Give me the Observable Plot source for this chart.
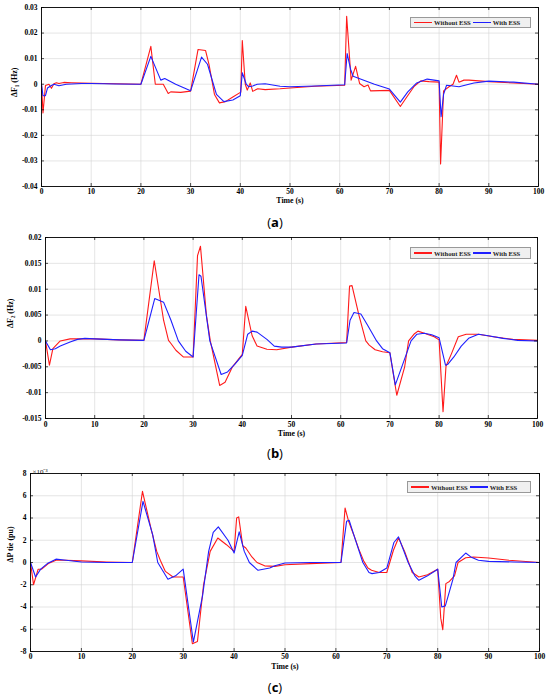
<!DOCTYPE html>
<html><head><meta charset="utf-8">
<script src="https://cdn.jsdelivr.net/npm/d3@7"></script>
<script src="https://cdn.jsdelivr.net/npm/@observablehq/plot@0.6"></script>
<style>
body{margin:0;background:#fff;}
#wrap{position:relative;width:550px;height:697px;overflow:hidden;}
.panel{position:absolute;left:0;}
.lbl{position:absolute;left:0;width:550px;height:18px;line-height:18px;text-align:center;font-family:"Open Sans",sans-serif;font-size:13px;color:#000;}
.lbl b{font-weight:700;}
.legend{position:absolute;background:#f0f0f0;border:0.8px solid #999;box-sizing:border-box;display:flex;align-items:center;font-family:"Liberation Serif",serif;font-weight:bold;font-size:6.6px;color:#222;white-space:nowrap;padding:0 2px;}
.legend .sw{display:inline-block;width:18px;height:1.4px;margin:0 2px 0 1px;}
</style>
</head><body>
<div id="wrap"></div>
<script>
// ---------- data ----------
const xTicks = [0,10,20,30,40,50,60,70,80,90,100];
const seriesNames = ["Without ESS","With ESS"];
const seriesColors = ["#ff1a1a","#1f1fff"];

// Panel (a): ΔF1 (Hz)
const aYTicks = [-0.04,-0.03,-0.02,-0.01,0,0.01,0.02,0.03];
const aWithout = [[0,0],[0.3,-0.0112],[0.8,-0.0005],[1.5,0],[2,-0.0016],[2.5,0.0002],[3,0.0006],[3.5,0.0003],[4.5,0.0007],[6,0.0006],[10,0.0004],[15,0.0002],[20,0],[22,0.0148],[22.9,0],[24.5,0],[25.5,-0.0036],[26,-0.003],[28,-0.0032],[30,-0.0027],[31.5,0.0136],[33,0.0132],[33.7,0.0078],[34.8,-0.004],[35.8,-0.0073],[37,-0.0068],[38.5,-0.005],[40.1,-0.0031],[40.4,0.0171],[41,0],[41.4,-0.0023],[42,0.0005],[42.5,-0.0028],[43.5,-0.0018],[45,-0.0021],[48,-0.0018],[50,-0.0015],[55,-0.0008],[61,-0.0004],[61.4,0.0266],[62.3,0.0016],[63.2,0.007],[64,0.0003],[64.9,-0.001],[65.7,-0.0003],[66.2,-0.0026],[70,-0.0024],[72.2,-0.0087],[73.5,-0.005],[75,-0.0008],[76.3,0.0013],[78,0.001],[80,0.0008],[80.3,-0.0312],[80.9,-0.0026],[82,-0.001],[82.8,0],[83.5,0.0035],[84,0.0008],[85,0.0016],[86,0.0016],[90,0.001],[95,0.0005],[100,0]];
const aWith = [[0,0],[0.3,-0.0045],[0.8,-0.0045],[1.2,-0.0015],[2,-0.0005],[2.5,0],[3.5,-0.0006],[5,0],[8,0.0003],[10,0.0003],[15,0.0001],[20,0],[22,0.0109],[24,0.0016],[24.8,0.0022],[27,0],[30,-0.0026],[32.2,0.0106],[33.4,0.0078],[35.2,-0.004],[36.7,-0.0068],[38.5,-0.0062],[40,-0.0045],[40.4,0.0045],[41.2,0],[41.7,-0.001],[42.5,-0.0007],[43.4,0],[45,0.0002],[48,-0.0008],[50,-0.001],[55,-0.0007],[61,-0.0002],[61.5,0.012],[62.2,0.0058],[62.7,0.0031],[67,0],[70,-0.0019],[72.2,-0.007],[73.7,-0.003],[75.5,0.0005],[77.6,0.002],[80,0.0013],[80.4,-0.0127],[80.9,-0.004],[81.5,-0.0004],[82,-0.0005],[84,-0.001],[87,0.0005],[90,0.0012],[95,0.0008],[100,0]];

// Panel (b): ΔF2 (Hz)
const bYTicks = [-0.015,-0.01,-0.005,0,0.005,0.01,0.015,0.02];
const bWithout = [[0,0],[0.8,-0.0047],[1.5,-0.0015],[3,0],[5,0.0004],[7,0.0004],[10,0.0004],[15,0.0002],[20,0.0001],[22.1,0.0155],[24,0.004],[25,0.0001],[25.5,-0.0005],[26.5,-0.0018],[28,-0.0031],[30,-0.0031],[30.9,0.0165],[31.5,0.0183],[32.7,0.005],[33.5,0],[35.4,-0.0086],[36.5,-0.008],[38,-0.005],[40,-0.0026],[40.7,0.0067],[42,0.001],[43,-0.001],[45,-0.0016],[47,-0.0017],[50,-0.0012],[55,-0.0006],[61.2,-0.0003],[61.8,0.0106],[62.3,0.0107],[63.7,0.005],[65.1,0],[65.8,-0.0008],[67,-0.0017],[68.5,-0.0021],[70,-0.0023],[71.4,-0.0105],[73,-0.005],[73.8,0],[75,0.0014],[75.7,0.0019],[77,0.0015],[79,0.0008],[80,0.0002],[80.8,-0.0137],[81.4,-0.0049],[82.5,-0.0025],[83.9,0.0008],[85.5,0.0013],[88,0.0013],[91,0.0008],[95,0.0003],[100,0.0001]];
const bWith = [[0,0],[1,-0.0017],[2,-0.0015],[3,-0.001],[5,-0.0002],[6.5,0.0003],[8,0.0005],[10,0.0004],[15,0.0002],[20,0.0001],[22.2,0.0082],[24,0.0075],[25.5,0.004],[27,0],[28.5,-0.002],[30,-0.0031],[31.2,0.0128],[31.6,0.0125],[33.4,0],[35.7,-0.0065],[37,-0.006],[38.5,-0.0045],[40,-0.0028],[41.1,0.0013],[42,0.0019],[43,0.0017],[45,0.0003],[46.5,-0.001],[48,-0.0012],[50,-0.0012],[55,-0.0006],[61.2,-0.0004],[61.9,0.004],[62.7,0.0055],[64.1,0.0052],[65.5,0.003],[67.3,0],[68.5,-0.0015],[70,-0.0023],[71.1,-0.0085],[72.8,-0.004],[74.3,0],[75.5,0.0013],[77,0.0015],[78.5,0.0012],[80,0.0006],[81.3,-0.0047],[81.8,-0.0045],[83,-0.0031],[84.5,-0.001],[86,0.0005],[88,0.0013],[90,0.001],[93,0.0005],[96,0.0001],[100,0]];

// Panel (c): ΔP tie (pu), values in units of 10^-3
const cYTicks = [-8,-6,-4,-2,0,2,4,6,8];
const cWithout = [[0,0],[0.6,-2.0],[1.5,-0.6],[2.2,-0.6],[3.5,-0.1],[5,0.2],[7,0.2],[10,0.15],[15,0.05],[20,0],[22,6.4],[23.7,3],[24.8,1],[25.5,0.2],[26.5,-0.8],[28,-1.3],[30,-1.3],[31.8,-7.3],[32.8,-7.1],[34,-2],[35.3,1],[36.8,2.2],[38.5,1.6],[40,1.0],[40.5,4.0],[40.9,4.1],[41.7,1.5],[42.3,1.3],[43.5,0.5],[44.5,0],[46,-0.3],[48,-0.35],[50,-0.2],[55,-0.1],[61,0],[61.8,4.9],[62.5,3.7],[63.5,2.5],[64.5,1.2],[65.5,0.1],[66.3,-0.5],[67,-0.7],[68.5,-0.9],[70,-0.9],[71.3,1.1],[72.3,2.2],[73.5,1.0],[75,-0.9],[76.3,-1.3],[78,-1.1],[80,-0.6],[80.6,-5],[81,-6.05],[81.6,-1.9],[82.3,-1.7],[83.3,-1.2],[84,0],[85.5,0.42],[87,0.5],[90,0.4],[94,0.2],[100,0]];
const cWith = [[0,0],[1,-1.3],[2,-0.6],[3.3,-0.1],[5,0.3],[7,0.2],[10,0.05],[15,0],[20,0],[22.1,5.5],[24,2.5],[25,0],[27,-1.5],[28.5,-1.2],[30,-0.6],[32,-7.15],[33.8,-3],[35,1],[35.9,2.7],[36.9,3.2],[38.8,2.0],[40,0.85],[41,2.75],[42,1.0],[43,0],[44.7,-0.7],[47,-0.5],[48,-0.3],[50,-0.05],[55,0],[61,0],[62.1,3.7],[62.6,3.8],[63.5,2.5],[65.3,0],[66.5,-0.9],[67.1,-1.0],[68.5,-0.9],[70,-0.5],[71.4,1.8],[72.3,2.3],[74.2,0],[75.5,-1.2],[76.3,-1.6],[78,-1.2],[80,-0.6],[80.8,-4.0],[81.5,-3.9],[83,-1.5],[83.6,0],[85.5,0.85],[86.5,0.5],[88,0.2],[90,0.1],[95,0.05],[100,0]];

// ---------- drawing ----------
const wrap = document.getElementById("wrap");
const W = 550;

function makePanel(cfg){
  const innerH = cfg.height - cfg.mt - cfg.mb;
  const innerW = W - cfg.ml - cfg.mr;
  const font = {fontFamily:"Liberation Serif, serif", fontWeight:"bold"};
  const marks = [
    Plot.gridX(xTicks, {stroke:"#d4d4d4", strokeOpacity:1, strokeWidth:0.6}),
    Plot.gridY(cfg.yTicks, {stroke:"#d4d4d4", strokeOpacity:1, strokeWidth:0.6}),
    Plot.line(cfg.red, {x:d=>d[0], y:d=>d[1], stroke:seriesColors[0], strokeWidth:1.1}),
    Plot.line(cfg.blue, {x:d=>d[0], y:d=>d[1], stroke:seriesColors[1], strokeWidth:1.1}),
    Plot.tickX(xTicks, {x:d=>d, insetTop:innerH-3, stroke:"#000", strokeWidth:0.7}),
    Plot.tickX(xTicks, {x:d=>d, insetBottom:innerH-3, stroke:"#000", strokeWidth:0.7}),
    Plot.tickY(cfg.yTicks, {y:d=>d, insetRight:innerW-3, stroke:"#000", strokeWidth:0.7}),
    Plot.tickY(cfg.yTicks, {y:d=>d, insetLeft:innerW-3, stroke:"#000", strokeWidth:0.7}),
    Plot.frame({stroke:"#000", strokeWidth:0.9}),
    Plot.axisX(xTicks, {tickSize:0, tickPadding:cfg.xPad, tickFormat:d=>String(d), fontSize:7.5, ...font, label:null}),
    Plot.axisY(cfg.yTicks, {tickSize:0, tickPadding:4, tickFormat:d=>String(d), fontSize:7.5, ...font, label:null}),
    Plot.text(["Time (s)"], {frameAnchor:"bottom", dy:cfg.timeDy, fontSize:7.8, ...font, fill:"#000"}),
    Plot.text([cfg.ylabel], {frameAnchor:"left", dx:cfg.ylDx, rotate:-90, fontSize:8, ...font, fill:"#000"})
  ];
  if (cfg.extra) marks.push(cfg.extra);
  const svg = Plot.plot({
    width: W, height: cfg.height,
    marginTop: cfg.mt, marginBottom: cfg.mb, marginLeft: cfg.ml, marginRight: cfg.mr,
    x: {domain:[0,100]},
    y: {domain: cfg.yDomain},
    style: {background:"white", color:"#000", overflow:"visible"},
    marks
  });
  const div = document.createElement("div");
  div.className = "panel";
  div.style.top = cfg.top + "px";
  div.appendChild(svg);
  wrap.appendChild(div);

  const lg = document.createElement("div");
  lg.className = "legend";
  lg.style.left = cfg.lg[0] + "px"; lg.style.top = cfg.lg[1] + "px";
  lg.style.width = cfg.lg[2] + "px"; lg.style.height = cfg.lg[3] + "px";
  seriesNames.forEach((n,i)=>{
    const sw = document.createElement("span"); sw.className = "sw"; sw.style.background = seriesColors[i];
    const tx = document.createElement("span"); tx.textContent = n; tx.style.marginRight = i===0 ? "1px" : "0";
    lg.appendChild(sw); lg.appendChild(tx);
  });
  wrap.appendChild(lg);

  const lb = document.createElement("div");
  lb.className = "lbl";
  lb.style.top = cfg.lblTop + "px";
  lb.innerHTML = "(<b>" + cfg.tag + "</b>)";
  wrap.appendChild(lb);
}

makePanel({top:0, height:212, mt:7, mb:26, ml:41, mr:12, yDomain:[-0.04,0.03], yTicks:aYTicks,
  red:aWithout, blue:aWith, ylabel:"ΔF₁ (Hz)", ylDx:-27, xPad:2, timeDy:16.5,
  lg:[410,17,121,11], lblTop:213, tag:"a"});
makePanel({top:230, height:212, mt:7, mb:24, ml:45, mr:13, yDomain:[-0.015,0.02], yTicks:bYTicks,
  red:bWithout, blue:bWith, ylabel:"ΔF₂ (Hz)", ylDx:-35, xPad:3, timeDy:17.5,
  lg:[410,247,121,12], lblTop:444, tag:"b"});
makePanel({top:462, height:215, mt:11, mb:26, ml:30, mr:11, yDomain:[-8,8], yTicks:cYTicks,
  red:cWithout, blue:cWith, ylabel:"ΔP tie (pu)", ylDx:-20, xPad:2, timeDy:17,
  extra: Plot.text(["×10⁻³"], {frameAnchor:"top-left", dx:2, dy:-4, textAnchor:"start", fontSize:7, fontFamily:"Liberation Serif, serif", fill:"#000"}),
  lg:[407,481,124,12], lblTop:678, tag:"c"});
</script>
</body></html>
